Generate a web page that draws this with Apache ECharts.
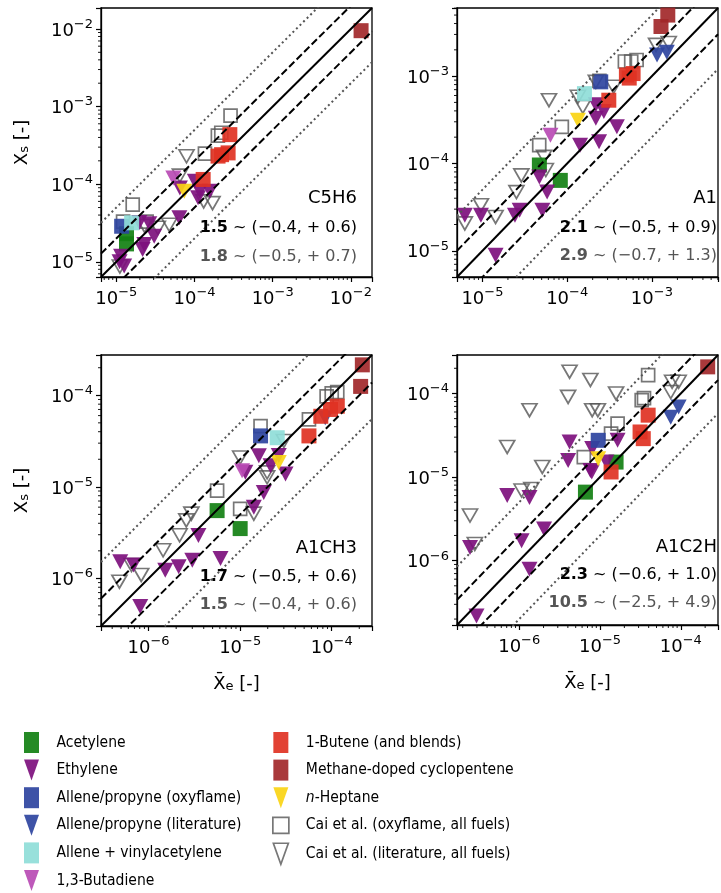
<!DOCTYPE html>
<html>
<head>
<meta charset="utf-8">
<script src="https://cdn.jsdelivr.net/npm/echarts@6/dist/echarts.min.js"></script>
<style>
  html, body { margin: 0; padding: 0; background: #fff; }
  #chart { width: 721px; height: 893px; }
</style>
</head>
<body>
<div id="chart"></div>
<script>
// Species panels and the agreement statistics printed in each of them
const panelNames = ['C5H6', 'A1', 'A1CH3', 'A1C2H'];
const statsThisWork = [['1.5', '0.4', '0.6'], ['2.1', '0.5', '0.9'], ['1.7', '0.5', '0.6'], ['2.3', '0.6', '1.0']];
const statsCai = [['1.8', '0.5', '0.7'], ['2.9', '0.7', '1.3'], ['1.5', '0.4', '0.6'], ['10.5', '2.5', '4.9']];

// Parity-line factors: y = x, factor-2 band, factor-5 band
const parityFactors = [1, 2, 0.5, 5, 0.2];

// Measured mole fraction (x) vs simulated (y), per fuel and per species
const acetylene = {
  C5H6: [[1.35e-5, 2.3e-5], [1.35e-5, 1.7e-5]],
  A1: [[4.7e-5, 9.6e-5], [8.3e-5, 6.4e-5]],
  A1CH3: [[5.6e-6, 5.5e-6], [1.0e-5, 3.5e-6]],
  A1C2H: [[1.58e-5, 1.51e-5], [6.6e-6, 6.6e-6]]
};
const ethylene = {
  C5H6: [[6.5e-5, 8.95e-5], [1.01e-4, 1.09e-4], [1.17e-4, 8.1e-5], [1.57e-4, 8.1e-5], [1.11e-4, 6.7e-5],
         [6.4e-5, 3.7e-5], [1.97e-5, 3.2e-5], [2.64e-5, 3.1e-5], [3.05e-5, 2.14e-5], [2.28e-5, 1.67e-5],
         [2.17e-5, 1.44e-5], [1.15e-5, 1.18e-5], [1.26e-5, 8.8e-6], [1.1e-5, 1.0e-5]],
  A1: [[6.2e-6, 2.56e-5], [9.6e-6, 2.56e-5], [2.42e-5, 2.56e-5], [2.75e-5, 2.92e-5], [5.1e-5, 2.92e-5],
       [5.8e-5, 4.7e-5], [4.7e-5, 7.0e-5], [1.43e-5, 8.9e-6], [1.42e-4, 1.62e-4], [2.38e-4, 1.77e-4],
       [3.86e-4, 2.63e-4], [2.18e-4, 3.3e-4], [2.71e-4, 3.94e-4], [2.18e-4, 4.7e-4]],
  A1CH3: [[1.6e-5, 2.18e-5], [1.14e-5, 1.44e-5], [2.15e-5, 1.7e-5], [3.13e-5, 1.38e-5], [1.81e-5, 8.7e-6],
          [1.41e-5, 6.0e-6], [3.5e-6, 2.95e-6], [6.1e-6, 1.65e-6], [3.0e-6, 1.58e-6], [2.13e-6, 1.34e-6],
          [1.52e-6, 1.23e-6], [4.9e-7, 1.52e-6], [6.85e-7, 1.4e-6], [8.1e-7, 4.93e-7], [2.64e-5, 2.2e-5]],
  A1C2H: [[4.2e-6, 2.62e-5], [4.03e-6, 1.58e-5], [7.1e-7, 6.0e-6], [1.34e-6, 5.7e-6], [2.03e-6, 2.39e-6],
          [1.07e-6, 1.73e-6], [2.46e-7, 1.44e-6], [1.34e-6, 7.9e-7], [2.96e-7, 2.18e-7], [8.0e-6, 2.19e-5],
          [7.6e-6, 1.2e-5], [1.2e-5, 1.51e-5], [7.9e-6, 1.15e-5], [1.65e-5, 2.75e-5]]
};
const alleneOxyflame = {
  C5H6: [[1.17e-5, 2.87e-5]],
  A1: [[2.49e-4, 8.6e-4]],
  A1CH3: [[1.67e-5, 3.6e-5]],
  A1C2H: [[9.5e-6, 2.75e-5]]
};
const alleneLiterature = {
  C5H6: [],
  A1: [[1.15e-3, 1.74e-3], [1.5e-3, 1.88e-3]],
  A1CH3: [[8.5e-5, 5.7e-5]],
  A1C2H: [[7.5e-5, 5.2e-5], [9.4e-5, 6.9e-5]]
};
const alleneVinylacetylene = {
  C5H6: [[1.57e-5, 3.18e-5]],
  A1: [[1.6e-4, 6.3e-4]],
  A1CH3: [[2.54e-5, 3.44e-5]],
  A1C2H: []
};
const butadiene = {
  C5H6: [[5.35e-5, 1.2e-4]],
  A1: [[6.35e-5, 2.11e-4]],
  A1CH3: [[1.05e-5, 1.5e-5]],
  A1C2H: []
};
const butene = {
  C5H6: [[2.83e-4, 4.35e-4], [2.22e-4, 2.4e-4], [2.69e-4, 2.53e-4], [2.0e-4, 2.3e-4], [1.29e-4, 1.15e-4]],
  A1: [[3.1e-4, 5.3e-4], [5.0e-4, 1.03e-3], [6.0e-4, 1.07e-3], [5.4e-4, 9.5e-4]],
  A1CH3: [[5.64e-5, 3.6e-5], [7.6e-5, 5.9e-5], [9.7e-5, 7.0e-5], [1.15e-4, 7.6e-5]],
  A1C2H: [[3.94e-5, 5.5e-5], [3.13e-5, 3.46e-5], [3.43e-5, 2.88e-5], [1.37e-5, 1.15e-5]]
};
const cyclopentene = {
  C5H6: [[1.35e-2, 9.5e-3]],
  A1: [[1.54e-3, 5.0e-3], [1.28e-3, 3.7e-3]],
  A1CH3: [[2.16e-4, 2.15e-4], [2.07e-4, 1.25e-4]],
  A1C2H: [[2.15e-4, 2.08e-4]]
};
const heptane = {
  C5H6: [[7.4e-5, 8.1e-5]],
  A1: [[1.34e-4, 3.13e-4]],
  A1CH3: [[2.64e-5, 1.85e-5]],
  A1C2H: [[9.5e-6, 1.66e-5]]
};
const caiOxyflame = {
  C5H6: [[2.89e-4, 7.64e-4], [1.99e-4, 4.22e-4], [2.2e-4, 4.6e-4], [1.36e-4, 2.48e-4], [1.62e-5, 5.46e-5],
         [1.22e-5, 3.3e-5], [2.44e-5, 3.3e-5]],
  A1: [[4.8e-4, 1.47e-3], [5.7e-4, 1.47e-3], [6.6e-4, 1.53e-3], [8.65e-5, 2.63e-4], [4.68e-5, 1.62e-4],
       [2.4e-4, 8.8e-4]],
  A1CH3: [[1.15e-4, 1.08e-4], [8.8e-5, 9.75e-5], [1.0e-4, 1.05e-4], [5.64e-5, 5.45e-5], [1.67e-5, 4.6e-5],
          [5.6e-6, 9.1e-6], [1.0e-5, 5.75e-6]],
  A1C2H: [[3.94e-5, 1.66e-4], [3.28e-5, 8.3e-5], [3.5e-5, 8.8e-5], [1.65e-5, 4.36e-5], [1.37e-5, 3.3e-5],
          [6.3e-6, 1.73e-5]]
};
const caiLiterature = {
  C5H6: [[7.9e-5, 2.29e-4], [6.5e-5, 1.29e-4], [1.31e-4, 6.0e-5], [1.7e-4, 5.7e-5], [4.75e-5, 3.0e-5],
         [3.4e-5, 2.74e-5], [1.11e-5, 8.7e-6], [2.3e-5, 2.9e-5]],
  A1: [[6.1e-5, 5.3e-4], [1.34e-4, 5.8e-4], [1.53e-4, 4.45e-4], [2.18e-4, 8.6e-4], [3.53e-4, 7.55e-4],
       [5.33e-5, 1.19e-4], [2.88e-5, 7.3e-5], [5.6e-5, 8.4e-5], [2.52e-5, 4.7e-5], [9.6e-6, 3.33e-5],
       [1.43e-5, 2.44e-5], [6.2e-6, 2.06e-5], [1.12e-3, 2.28e-3], [1.58e-3, 2.39e-3]],
  A1CH3: [[1.0e-5, 2.09e-5], [1.97e-5, 1.44e-5], [1.97e-5, 1.27e-5], [3.0e-5, 3.17e-5], [1.41e-5, 5.1e-6],
          [2.93e-6, 5.1e-6], [2.58e-6, 4.3e-6], [2.18e-6, 2.96e-6], [1.44e-6, 2.03e-6], [6.5e-7, 1.4e-6],
          [8.3e-7, 1.09e-6], [4.8e-7, 9.2e-7]],
  A1C2H: [[4.2e-6, 1.82e-4], [7.6e-6, 1.45e-4], [4.03e-6, 9.1e-5], [1.34e-6, 6.3e-5], [8.0e-6, 6.3e-5],
          [9.4e-6, 6.3e-5], [7.1e-7, 2.29e-5], [1.93e-6, 1.32e-5], [1.07e-6, 6.9e-6], [1.41e-6, 7.2e-6],
          [2.46e-7, 3.46e-6], [2.82e-7, 1.58e-6], [1.58e-5, 1.0e-4], [7.8e-5, 1.38e-4], [9.4e-5, 1.38e-4],
          [7.5e-5, 1.04e-4]]
};

// ---- layout and styling ----
const axisLog = [[-5.196, -1.73], [-5.30, -2.22], [-6.52, -3.56], [-6.77, -3.54]];
const gridRects = [[101, 8, 271, 269], [457, 8, 269, 269], [101, 355, 271, 271], [457, 355, 271, 270]];
const textRight = [357, 717, 357, 717];
const textRows = [[198, 228, 257], [198, 228, 256], [548, 577, 605], [547, 575, 603]];

const FONT = 'DejaVu Sans';
const LEGEND_FONT = "'DejaVu Sans Condensed', 'DejaVu Sans'";
const TRI = 'path://M0,0L16,0L8,15Z';
const LEG_SQ = 'path://M0,0L15,0L15,21L0,21Z';
const LEG_TRI = 'path://M0,0L15,0L7.5,21Z';
const LEG_HSQ = 'path://M0,0L15,0L15,15L0,15Z';

const fuels = [
  { name: 'Cai et al. (oxyflame, all fuels)', pts: caiOxyflame, symbol: 'rect', size: 13, legendIcon: LEG_HSQ, hollow: true },
  { name: 'Cai et al. (literature, all fuels)', pts: caiLiterature, symbol: TRI, size: [15, 13], legendIcon: LEG_TRI, hollow: true },
  { name: 'Acetylene', pts: acetylene, symbol: 'rect', size: 15, legendIcon: LEG_SQ, color: '#128012' },
  { name: 'Ethylene', pts: ethylene, symbol: TRI, size: [16, 15], legendIcon: LEG_TRI, color: '#7d107d' },
  { name: 'Allene/propyne (oxyflame)', pts: alleneOxyflame, symbol: 'rect', size: 15, legendIcon: LEG_SQ, color: '#2e44a0' },
  { name: 'Allene/propyne (literature)', pts: alleneLiterature, symbol: TRI, size: [16, 15], legendIcon: LEG_TRI, color: '#2e44a0' },
  { name: 'Allene + vinylacetylene', pts: alleneVinylacetylene, symbol: 'rect', size: 15, legendIcon: LEG_SQ, color: '#8fddd8' },
  { name: '1,3-Butadiene', pts: butadiene, symbol: TRI, size: [16, 15], legendIcon: LEG_TRI, color: '#b94bb4' },
  { name: '1-Butene (and blends)', pts: butene, symbol: 'rect', size: 15, legendIcon: LEG_SQ, color: '#e03223' },
  { name: 'Methane-doped cyclopentene', pts: cyclopentene, symbol: 'rect', size: 15, legendIcon: LEG_SQ, color: '#a2282a' },
  { name: 'n-Heptane', pts: heptane, symbol: TRI, size: [16, 15], legendIcon: LEG_TRI, color: '#fad414' }
];
const legendCol1 = ['Acetylene', 'Ethylene', 'Allene/propyne (oxyflame)', 'Allene/propyne (literature)',
  'Allene + vinylacetylene', '1,3-Butadiene'];
const legendCol2 = ['1-Butene (and blends)', 'Methane-doped cyclopentene', 'n-Heptane',
  'Cai et al. (oxyflame, all fuels)', 'Cai et al. (literature, all fuels)'];

function itemStyleOf(f) {
  return f.hollow
    ? { color: 'rgba(255,255,255,0)', borderColor: '#555', borderWidth: 1.7 }
    : { color: f.color, opacity: 0.92, borderWidth: 0 };
}

const tickRich = {
  b: { fontFamily: FONT, fontSize: 18, color: '#000', lineHeight: 22, verticalAlign: 'bottom' },
  s: { fontFamily: FONT, fontSize: 13, color: '#000', lineHeight: 13, padding: [0, 0, 9, 0], verticalAlign: 'bottom' }
};
function decadeLabel(v) {
  const lg = Math.log10(v);
  const e = Math.round(lg);
  if (Math.abs(lg - e) > 1e-6) return '';
  return '{b|10}{s|' + (e < 0 ? '\u2212' : '') + Math.abs(e) + '}';
}
const nameRich = {
  a: { fontFamily: FONT, fontSize: 18, color: '#000', lineHeight: 22, verticalAlign: 'bottom' },
  sub: { fontFamily: FONT, fontSize: 13, color: '#000', lineHeight: 13, verticalAlign: 'bottom', padding: [0, 0, 0, 0] }
};

function minorValues(lo, hi) {
  const out = [];
  for (let d = Math.floor(lo); d <= Math.ceil(hi); d++) {
    for (let k = 2; k <= 9; k++) {
      const v = k * Math.pow(10, d);
      const lv = Math.log10(v);
      if (lv > lo && lv < hi) out.push(v);
    }
  }
  return out;
}

const grids = [], xAxes = [], yAxes = [], series = [], graphics = [];

panelNames.forEach((panel, i) => {
  const [gl, gt, gw, gh] = gridRects[i];
  const [lo, hi] = axisLog[i];
  const vmin = Math.pow(10, lo), vmax = Math.pow(10, hi);
  grids.push({ left: gl, top: gt, width: gw, height: gh, show: true, borderColor: '#000', borderWidth: 1.3, backgroundColor: 'transparent' });

  const common = {
    type: 'log', logBase: 10, gridIndex: i, min: vmin, max: vmax,
    axisLine: { show: true, onZero: false, lineStyle: { color: '#000', width: 1.3 } },
    axisTick: { show: true, inside: false, length: 5, lineStyle: { color: '#000', width: 1.2 } },
    minorTick: { show: false },
    splitLine: { show: false },
    axisLabel: { show: true, formatter: decadeLabel, rich: tickRich, showMinLabel: true, showMaxLabel: true, hideOverlap: false }
  };
  const xa = Object.assign({}, common, { position: 'bottom' });
  xa.axisLabel = Object.assign({}, common.axisLabel, { margin: 9 });
  if (i >= 2) {
    xa.name = '{a|X\u0304}{sub|e}{a| [-]}';
    xa.nameLocation = 'middle';
    xa.nameGap = 45;
    xa.nameTextStyle = { rich: nameRich };
  }
  const ya = Object.assign({}, common, { position: 'left' });
  ya.axisLabel = Object.assign({}, common.axisLabel, { margin: 8 });
  if (i % 2 === 0) {
    ya.name = '{a|X}{sub|s}{a| [-]}';
    ya.nameLocation = 'middle';
    ya.nameGap = 70;
    ya.nameTextStyle = { rich: nameRich };
  }
  xAxes.push(xa);
  yAxes.push(ya);

  // data points
  fuels.forEach(f => {
    const pts = f.pts[panel];
    series.push({
      name: f.name, type: 'scatter', xAxisIndex: i, yAxisIndex: i,
      data: pts, symbol: f.symbol, symbolSize: f.size,
      itemStyle: itemStyleOf(f), z: f.hollow ? 2 : 3, clip: true,
      emphasis: { disabled: true }
    });
  });

  // parity lines spanning the axis range
  parityFactors.forEach(fac => {
    const style = fac === 1 ? { color: '#000', width: 2, type: 'solid' }
      : (fac === 2 || fac === 0.5) ? { color: '#000', width: 2, type: [7.4, 3.2] }
      : { color: '#555', width: 2, type: [2, 3] };
    series.push({
      type: 'line', xAxisIndex: i, yAxisIndex: i, symbol: 'none', silent: true, clip: true, z: 4,
      data: [[vmin, vmin * fac], [vmax, vmax * fac]], lineStyle: style
    });
  });

  // minor ticks at 2..9 x 10^n on both axes
  const minors = minorValues(lo, hi);
  series.push({
    type: 'custom', coordinateSystem: 'cartesian2d', xAxisIndex: i, yAxisIndex: i, silent: true, z: 5,
    data: minors.map(v => [v, vmin]),
    renderItem: (params, api) => {
      const p = api.coord([api.value(0), api.value(1)]);
      return { type: 'line', shape: { x1: p[0], y1: p[1], x2: p[0], y2: p[1] + 3 }, style: { stroke: '#000', lineWidth: 0.9 } };
    }
  });
  series.push({
    type: 'custom', coordinateSystem: 'cartesian2d', xAxisIndex: i, yAxisIndex: i, silent: true, z: 5,
    data: minors.map(v => [vmin, v]),
    renderItem: (params, api) => {
      const p = api.coord([api.value(0), api.value(1)]);
      return { type: 'line', shape: { x1: p[0] - 3, y1: p[1], x2: p[0], y2: p[1] }, style: { stroke: '#000', lineWidth: 0.9 } };
    }
  });

  // panel title and statistics
  const rx = textRight[i];
  const [r0, r1, r2] = textRows[i];
  graphics.push({
    type: 'text', z: 10, style: { text: panel, x: rx, y: r0, align: 'right', verticalAlign: 'middle', font: '18px ' + FONT, fill: '#000' }
  });
  const statLine = (s, color, y) => ({
    type: 'text', z: 10,
    style: {
      text: '{b|' + s[0] + '}{n| ~ (\u2212' + s[1] + ', + ' + s[2] + ')}',
      x: rx, y: y, align: 'right', verticalAlign: 'middle',
      rich: {
        b: { fontFamily: FONT, fontSize: 16, fontWeight: 'bold', fill: color },
        n: { fontFamily: FONT, fontSize: 16, fill: color }
      }
    }
  });
  graphics.push(statLine(statsThisWork[i], '#000', r1));
  graphics.push(statLine(statsCai[i], '#555', r2));
});

function legendItems(names) {
  return names.map(n => {
    const f = fuels.find(q => q.name === n);
    return { name: n, icon: f.legendIcon, itemStyle: itemStyleOf(f) };
  });
}
const legendText = {
  fontFamily: LEGEND_FONT, fontSize: 15.5, color: '#000', padding: [0, 0, 0, 12], lineHeight: 21,
  rich: { i: { fontFamily: LEGEND_FONT, fontSize: 15.5, fontStyle: 'italic', color: '#000' } }
};
const legendFormatter = n => n === 'n-Heptane' ? '{i|n}-Heptane' : n;

const chart = echarts.init(document.getElementById('chart'), null, { renderer: 'canvas', width: 721, height: 893 });
chart.setOption({
  backgroundColor: '#fff',
  animation: false,
  grid: grids,
  xAxis: xAxes,
  yAxis: yAxes,
  series: series,
  graphic: graphics,
  legend: [
    { orient: 'vertical', left: 24, top: 732, padding: 0, itemWidth: 16, itemHeight: 21, itemGap: 6.6, selectedMode: false,
      data: legendItems(legendCol1), textStyle: legendText, formatter: legendFormatter },
    { orient: 'vertical', left: 272, top: 732, padding: 0, itemWidth: 16, itemHeight: 21, itemGap: 6.6, selectedMode: false,
      data: legendItems(legendCol2), textStyle: legendText, formatter: legendFormatter }
  ]
});
</script>
</body>
</html>
